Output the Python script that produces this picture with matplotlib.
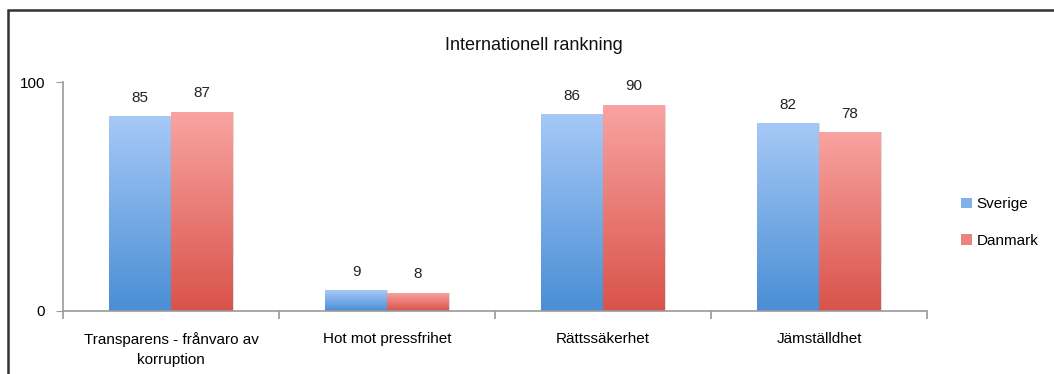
import numpy as np
import matplotlib
matplotlib.use("Agg")
import matplotlib.pyplot as plt
from matplotlib.colors import LinearSegmentedColormap
from matplotlib.patches import Rectangle

plt.rcParams['font.family'] = ['Liberation Sans', 'DejaVu Sans']

# data
categories = ['Transparens - frånvaro av\nkorruption', 'Hot mot pressfrihet',
              'Rättssäkerhet', 'Jämställdhet']
sverige = [85, 9, 86, 82]
danmark = [87, 8, 90, 78]
series_names = ['Sverige', 'Danmark']
title = 'Internationell rankning'

# gradient colours (bottom -> top)
blue_cmap = LinearSegmentedColormap.from_list('b', ['#4a8ed6', '#a6c9f6'])
red_cmap = LinearSegmentedColormap.from_list('r', ['#d9534a', '#f9a4a1'])

fig = plt.figure(figsize=(10.54, 3.74), dpi=100)
ax = fig.add_axes([63 / 1054, 1 - 311 / 374, 864 / 1054, 229 / 374])

# outer frame, cropped on the right and bottom like the original
fig.patches.append(Rectangle((8 / 1054, -0.1), 1.2, 1 - 10 / 374 + 0.1,
                             transform=fig.transFigure, fill=False,
                             edgecolor='#333333', linewidth=1.8))

x = np.arange(len(categories))
w = 0.287


def gradient_bars(xs, vals, cmap, label):
    bars = ax.bar(xs, vals, width=w, color=cmap(0.5), label=label,
                  edgecolor='#d8d8d8', linewidth=0.6, zorder=2)
    grad = np.linspace(0, 1, 256).reshape(-1, 1)
    for b in bars:
        bx, bw, bh = b.get_x(), b.get_width(), b.get_height()
        # gradient follows each bar: light at its top, dark at its base
        im = ax.imshow(grad, cmap=cmap, origin='lower', aspect='auto',
                       extent=[bx, bx + bw, 0, bh], zorder=2.5)
        im.set_clip_path(b)
        b.set_facecolor('none')
    return bars


gradient_bars(x - w / 2, sverige, blue_cmap, series_names[0])
gradient_bars(x + w / 2, danmark, red_cmap, series_names[1])

for xs, vals in [(x - w / 2, sverige), (x + w / 2, danmark)]:
    for xi, v in zip(xs, vals):
        ax.text(xi, v + 5, str(v), ha='center', va='bottom', fontsize=11,
                color='#222222')

ax.set_xlim(-0.5, len(categories) - 0.5)
ax.set_ylim(0, 100)
ax.set_yticks([0, 100])
ax.set_yticklabels(['0', '100'], fontsize=11)
ax.set_xticks(x)
ax.set_xticklabels(categories, fontsize=11, linespacing=1.55)
ax.tick_params(axis='x', length=0, pad=15)
ax.tick_params(axis='y', length=5, color='#999999', pad=8)
ax.set_xticks(np.arange(-0.5, len(categories)), minor=True)
ax.tick_params(axis='x', which='minor', length=6, color='#999999', width=1.2)

for s in ['top', 'right']:
    ax.spines[s].set_visible(False)
for s in ['left', 'bottom']:
    ax.spines[s].set_color('#999999')
    ax.spines[s].set_linewidth(1.2)

fig.text(534 / 1054, 1 - 45 / 374, title, ha='center', va='center', fontsize=13,
         color='#111111')

handles = [Rectangle((0, 0), 1, 1, facecolor=blue_cmap(0.6)),
           Rectangle((0, 0), 1, 1, facecolor=red_cmap(0.6))]
fig.legend(handles, series_names, loc='center left',
           bbox_to_anchor=(0.899, 0.405), frameon=False, fontsize=11,
           handlelength=0.7, handleheight=0.7, handletextpad=0.3,
           labelspacing=1.45)

fig.savefig('out.png', dpi=100)
